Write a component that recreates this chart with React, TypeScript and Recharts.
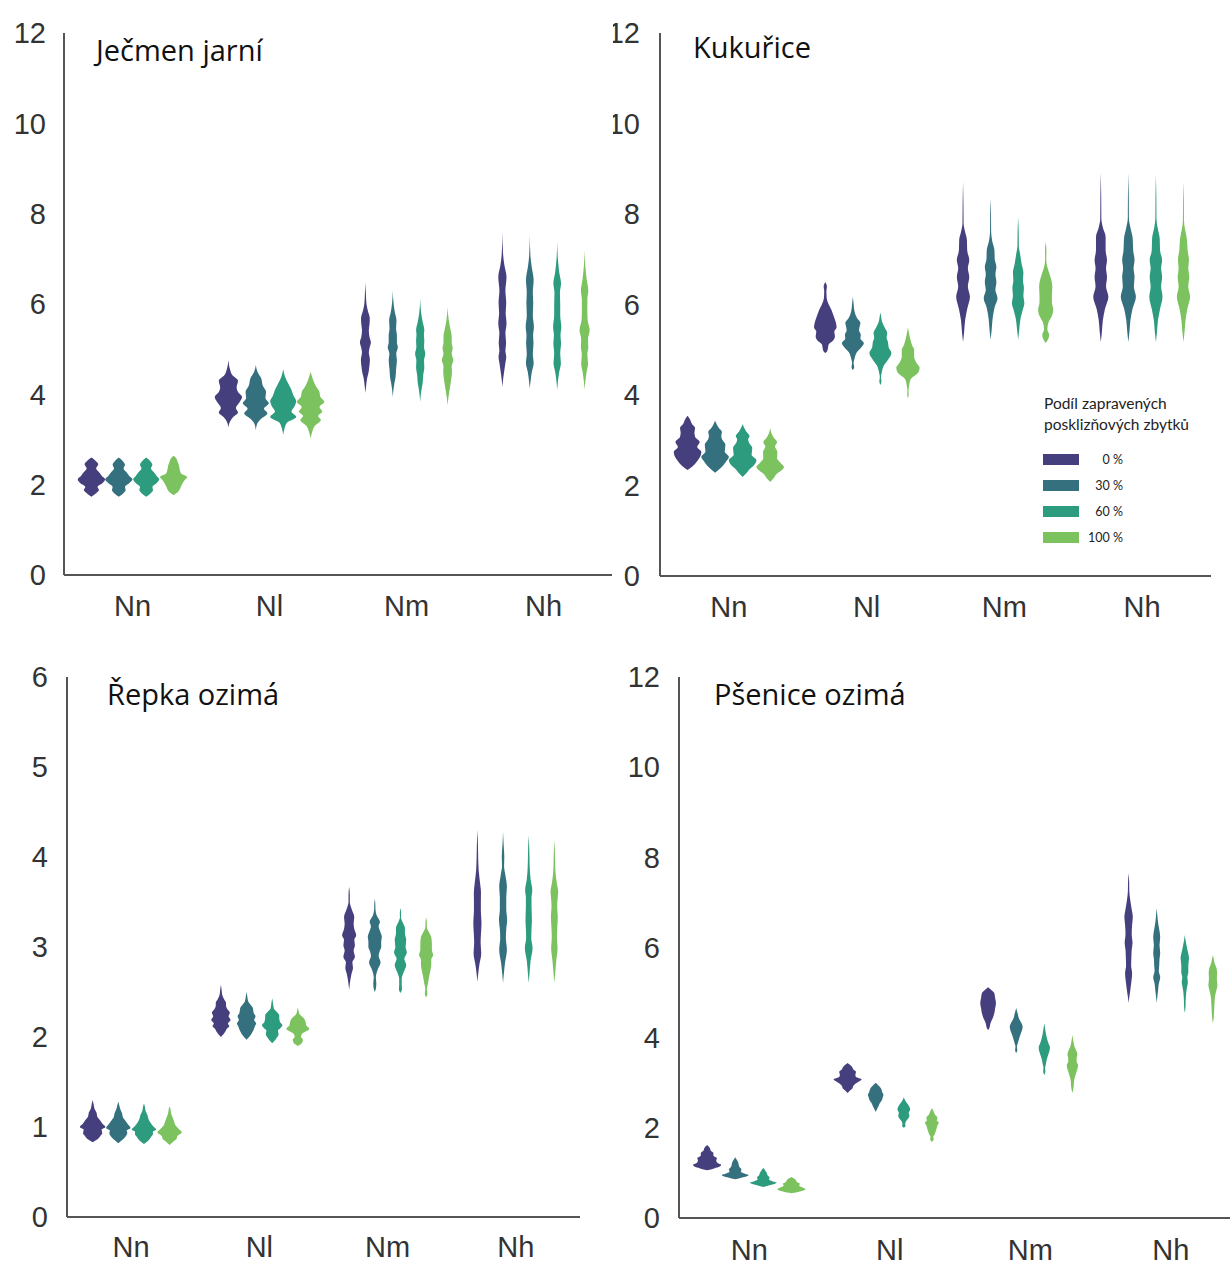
import { ComposedChart, Area, XAxis, YAxis } from 'recharts'

// categories and hue levels
const groups = ['Nn', 'Nl', 'Nm', 'Nh']
const shares = ['0 %', '30 %', '60 %', '100 %']
const colors = ['#463f7e', '#35707f', '#2d9b7d', '#7cc25f']
const ticks12 = [0, 2, 4, 6, 8, 10, 12]
const ticks6 = [0, 1, 2, 3, 4, 5, 6]

// each violin: [value, relative density] pairs from bottom to top, one profile per hue
type Profile = [number, number][]

// Ječmen jarní
const jecmenNn: Profile[] = [
  [[1.73, 0], [1.8, 0.3], [1.88, 0.55], [1.95, 0.45], [2.03, 0.8], [2.12, 1], [2.2, 0.75], [2.28, 0.55], [2.36, 0.35], [2.45, 0.5], [2.53, 0.3], [2.6, 0]],
  [[1.73, 0], [1.8, 0.3], [1.88, 0.5], [1.95, 0.45], [2.03, 0.75], [2.12, 1], [2.2, 0.75], [2.28, 0.55], [2.36, 0.35], [2.44, 0.45], [2.52, 0.3], [2.6, 0]],
  [[1.73, 0], [1.8, 0.3], [1.88, 0.5], [1.95, 0.45], [2.03, 0.75], [2.12, 0.95], [2.2, 0.75], [2.28, 0.55], [2.36, 0.35], [2.44, 0.45], [2.52, 0.3], [2.6, 0]],
  [[1.77, 0], [1.85, 0.35], [1.93, 0.5], [2.0, 0.6], [2.1, 0.8], [2.17, 1], [2.25, 0.55], [2.33, 0.45], [2.42, 0.4], [2.5, 0.3], [2.58, 0.2], [2.64, 0]],
]
const jecmenNl: Profile[] = [
  [[3.27, 0], [3.4, 0.12], [3.5, 0.35], [3.6, 0.7], [3.7, 0.55], [3.82, 0.8], [3.94, 1], [4.05, 0.7], [4.15, 0.6], [4.3, 0.7], [4.42, 0.3], [4.55, 0.12], [4.76, 0]],
  [[3.2, 0], [3.35, 0.1], [3.45, 0.35], [3.58, 0.85], [3.68, 0.6], [3.8, 0.95], [3.92, 0.7], [4.05, 0.75], [4.2, 0.5], [4.35, 0.4], [4.5, 0.12], [4.65, 0]],
  [[3.1, 0], [3.25, 0.1], [3.38, 0.3], [3.5, 0.95], [3.62, 0.6], [3.75, 0.85], [3.85, 0.95], [3.97, 0.75], [4.1, 0.6], [4.25, 0.35], [4.4, 0.12], [4.56, 0]],
  [[3.03, 0], [3.15, 0.1], [3.3, 0.3], [3.43, 0.75], [3.52, 0.55], [3.62, 0.85], [3.72, 0.65], [3.83, 1], [3.95, 0.7], [4.05, 0.65], [4.2, 0.35], [4.35, 0.15], [4.5, 0]],
]
const jecmenNm: Profile[] = [
  [[4.03, 0], [4.2, 0.06], [4.35, 0.12], [4.47, 0.22], [4.6, 0.28], [4.76, 0.33], [4.93, 0.25], [5.05, 0.32], [5.15, 0.4], [5.27, 0.3], [5.42, 0.25], [5.55, 0.3], [5.68, 0.32], [5.85, 0.18], [6.0, 0.08], [6.2, 0.04], [6.48, 0]],
  [[3.94, 0], [4.1, 0.05], [4.25, 0.12], [4.38, 0.2], [4.55, 0.24], [4.76, 0.3], [4.9, 0.25], [5.04, 0.37], [5.15, 0.3], [5.3, 0.3], [5.45, 0.24], [5.64, 0.27], [5.8, 0.16], [6.0, 0.06], [6.3, 0]],
  [[3.83, 0], [4.0, 0.05], [4.15, 0.12], [4.25, 0.18], [4.42, 0.22], [4.6, 0.3], [4.75, 0.28], [4.9, 0.37], [5.05, 0.28], [5.2, 0.3], [5.32, 0.27], [5.42, 0.3], [5.6, 0.18], [5.8, 0.07], [6.13, 0]],
  [[3.76, 0], [3.9, 0.05], [4.05, 0.12], [4.2, 0.2], [4.35, 0.27], [4.5, 0.32], [4.62, 0.3], [4.76, 0.42], [4.9, 0.3], [5.02, 0.37], [5.15, 0.3], [5.27, 0.3], [5.45, 0.2], [5.65, 0.08], [5.93, 0]],
]
const jecmenNh: Profile[] = [
  [[4.16, 0], [4.35, 0.06], [4.55, 0.15], [4.7, 0.22], [4.82, 0.28], [4.97, 0.22], [5.13, 0.27], [5.35, 0.22], [5.57, 0.3], [5.8, 0.24], [6.02, 0.28], [6.3, 0.22], [6.6, 0.3], [6.85, 0.15], [7.1, 0.05], [7.6, 0]],
  [[4.13, 0], [4.3, 0.06], [4.5, 0.15], [4.69, 0.28], [4.9, 0.22], [5.13, 0.27], [5.3, 0.24], [5.49, 0.3], [5.75, 0.22], [6.02, 0.25], [6.25, 0.22], [6.53, 0.28], [6.8, 0.15], [7.05, 0.05], [7.52, 0]],
  [[4.1, 0], [4.3, 0.06], [4.5, 0.15], [4.69, 0.27], [4.9, 0.22], [5.13, 0.28], [5.3, 0.24], [5.49, 0.3], [5.75, 0.22], [6.0, 0.22], [6.25, 0.2], [6.46, 0.28], [6.7, 0.15], [7.0, 0.05], [7.37, 0]],
  [[4.1, 0], [4.3, 0.06], [4.5, 0.15], [4.69, 0.25], [4.88, 0.2], [5.04, 0.27], [5.22, 0.25], [5.42, 0.37], [5.65, 0.22], [5.9, 0.2], [6.1, 0.2], [6.3, 0.27], [6.55, 0.15], [6.85, 0.05], [7.2, 0]],
]

// Kukuřice
const kukuriceNn: Profile[] = [
  [[2.34, 0], [2.42, 0.35], [2.5, 0.6], [2.6, 0.85], [2.74, 1], [2.85, 0.7], [2.96, 0.88], [3.07, 0.55], [3.17, 0.5], [3.27, 0.55], [3.37, 0.3], [3.45, 0.2], [3.54, 0]],
  [[2.28, 0], [2.36, 0.3], [2.45, 0.6], [2.55, 0.85], [2.63, 1], [2.75, 0.7], [2.9, 0.75], [3.02, 0.5], [3.1, 0.45], [3.18, 0.5], [3.28, 0.25], [3.35, 0.12], [3.43, 0]],
  [[2.19, 0], [2.28, 0.3], [2.36, 0.5], [2.46, 0.85], [2.56, 1], [2.68, 0.65], [2.83, 0.7], [2.95, 0.45], [3.02, 0.4], [3.09, 0.5], [3.2, 0.25], [3.28, 0.1], [3.36, 0]],
  [[2.08, 0], [2.16, 0.25], [2.25, 0.45], [2.33, 0.8], [2.41, 1], [2.5, 0.75], [2.6, 0.5], [2.74, 0.52], [2.86, 0.35], [2.96, 0.5], [3.06, 0.25], [3.15, 0.1], [3.27, 0]],
]
const kukuriceNl: Profile[] = [
  [[4.93, 0], [4.98, 0.15], [5.05, 0.2], [5.12, 0.25], [5.2, 0.55], [5.3, 0.7], [5.4, 0.65], [5.5, 0.82], [5.62, 0.75], [5.75, 0.6], [5.88, 0.45], [6.0, 0.25], [6.15, 0.1], [6.3, 0.08], [6.4, 0.12], [6.5, 0]],
  [[4.55, 0], [4.62, 0.1], [4.7, 0.05], [4.8, 0.12], [4.95, 0.3], [5.05, 0.6], [5.15, 0.8], [5.25, 0.55], [5.33, 0.58], [5.43, 0.45], [5.52, 0.5], [5.59, 0.55], [5.7, 0.3], [5.85, 0.12], [6.0, 0.06], [6.17, 0]],
  [[4.22, 0], [4.3, 0.08], [4.4, 0.04], [4.5, 0.1], [4.65, 0.25], [4.78, 0.55], [4.93, 0.8], [5.05, 0.6], [5.17, 0.55], [5.27, 0.45], [5.37, 0.5], [5.5, 0.3], [5.62, 0.12], [5.72, 0.06], [5.83, 0]],
  [[3.93, 0], [4.0, 0.05], [4.1, 0.04], [4.2, 0.08], [4.35, 0.2], [4.5, 0.75], [4.6, 0.85], [4.72, 0.6], [4.85, 0.45], [5.0, 0.45], [5.1, 0.3], [5.2, 0.2], [5.3, 0.12], [5.5, 0]],
]
const kukuriceNm: Profile[] = [
  [[5.17, 0], [5.4, 0.08], [5.65, 0.15], [5.9, 0.3], [6.17, 0.5], [6.4, 0.35], [6.61, 0.45], [6.8, 0.35], [6.98, 0.45], [7.2, 0.3], [7.43, 0.28], [7.6, 0.15], [7.8, 0.04], [8.2, 0.03], [8.71, 0]],
  [[5.22, 0], [5.45, 0.08], [5.7, 0.15], [5.95, 0.3], [6.14, 0.5], [6.32, 0.35], [6.5, 0.42], [6.67, 0.35], [6.83, 0.42], [7.0, 0.3], [7.2, 0.28], [7.4, 0.12], [7.6, 0.04], [8.0, 0.03], [8.35, 0]],
  [[5.22, 0], [5.45, 0.08], [5.7, 0.18], [5.9, 0.35], [6.03, 0.45], [6.2, 0.38], [6.36, 0.42], [6.53, 0.35], [6.7, 0.38], [6.9, 0.25], [7.1, 0.15], [7.3, 0.05], [7.6, 0.04], [7.93, 0]],
  [[5.15, 0], [5.25, 0.2], [5.33, 0.25], [5.45, 0.12], [5.6, 0.2], [5.75, 0.45], [5.88, 0.55], [6.05, 0.45], [6.2, 0.45], [6.39, 0.48], [6.55, 0.4], [6.7, 0.25], [6.85, 0.1], [7.0, 0.04], [7.2, 0.05], [7.38, 0]],
]
const kukuriceNh: Profile[] = [
  [[5.17, 0], [5.4, 0.08], [5.65, 0.15], [5.9, 0.3], [6.17, 0.55], [6.4, 0.38], [6.61, 0.45], [6.8, 0.38], [6.98, 0.45], [7.2, 0.35], [7.49, 0.35], [7.7, 0.15], [7.9, 0.04], [8.4, 0.03], [8.91, 0]],
  [[5.17, 0], [5.4, 0.08], [5.65, 0.15], [5.9, 0.3], [6.17, 0.55], [6.4, 0.4], [6.61, 0.45], [6.8, 0.38], [6.98, 0.45], [7.2, 0.35], [7.45, 0.32], [7.7, 0.15], [7.9, 0.04], [8.4, 0.03], [8.9, 0]],
  [[5.17, 0], [5.4, 0.08], [5.65, 0.15], [5.9, 0.3], [6.17, 0.48], [6.4, 0.38], [6.61, 0.45], [6.8, 0.38], [6.98, 0.45], [7.2, 0.3], [7.45, 0.28], [7.7, 0.12], [7.9, 0.04], [8.4, 0.03], [8.86, 0]],
  [[5.17, 0], [5.4, 0.08], [5.65, 0.15], [5.9, 0.28], [6.17, 0.48], [6.4, 0.35], [6.61, 0.42], [6.8, 0.35], [6.98, 0.4], [7.2, 0.3], [7.45, 0.25], [7.65, 0.12], [7.85, 0.04], [8.3, 0.03], [8.71, 0]],
]

// Řepka ozimá
const repkaNn: Profile[] = [
  [[0.83, 0], [0.86, 0.35], [0.9, 0.6], [0.93, 0.75], [0.97, 0.7], [1.0, 1.0], [1.04, 0.75], [1.08, 0.55], [1.12, 0.35], [1.16, 0.3], [1.2, 0.15], [1.25, 0.08], [1.3, 0]],
  [[0.82, 0], [0.86, 0.35], [0.9, 0.6], [0.93, 0.7], [0.96, 0.65], [0.99, 0.95], [1.03, 0.75], [1.07, 0.55], [1.11, 0.35], [1.15, 0.3], [1.2, 0.15], [1.24, 0.08], [1.28, 0]],
  [[0.81, 0], [0.85, 0.35], [0.89, 0.55], [0.92, 0.7], [0.95, 0.7], [0.97, 0.95], [1.01, 0.7], [1.05, 0.5], [1.09, 0.35], [1.13, 0.28], [1.18, 0.12], [1.22, 0.08], [1.26, 0]],
  [[0.8, 0], [0.84, 0.3], [0.87, 0.55], [0.9, 0.6], [0.94, 0.95], [0.98, 0.7], [1.02, 0.45], [1.06, 0.35], [1.1, 0.25], [1.15, 0.12], [1.19, 0.08], [1.23, 0]],
]
const repkaNl: Profile[] = [
  [[2.0, 0], [2.03, 0.2], [2.06, 0.35], [2.09, 0.45], [2.12, 0.65], [2.15, 0.55], [2.19, 0.75], [2.23, 0.6], [2.27, 0.7], [2.31, 0.5], [2.35, 0.4], [2.38, 0.4], [2.42, 0.25], [2.47, 0.1], [2.52, 0.06], [2.58, 0]],
  [[1.97, 0], [2.0, 0.2], [2.04, 0.4], [2.08, 0.55], [2.12, 0.65], [2.15, 0.75], [2.19, 0.6], [2.23, 0.7], [2.27, 0.55], [2.32, 0.5], [2.36, 0.3], [2.4, 0.12], [2.45, 0.06], [2.5, 0]],
  [[1.93, 0], [1.97, 0.25], [2.0, 0.4], [2.03, 0.5], [2.07, 0.45], [2.1, 0.65], [2.13, 0.8], [2.17, 0.6], [2.21, 0.55], [2.24, 0.55], [2.28, 0.35], [2.32, 0.12], [2.38, 0.06], [2.43, 0]],
  [[1.9, 0], [1.93, 0.3], [1.97, 0.4], [2.0, 0.25], [2.03, 0.3], [2.06, 0.6], [2.09, 0.9], [2.13, 0.65], [2.17, 0.6], [2.21, 0.45], [2.25, 0.15], [2.29, 0.06], [2.33, 0]],
]
const repkaNm: Profile[] = [
  [[2.52, 0], [2.6, 0.06], [2.7, 0.18], [2.77, 0.3], [2.83, 0.25], [2.89, 0.45], [2.96, 0.35], [3.02, 0.45], [3.08, 0.4], [3.13, 0.55], [3.2, 0.4], [3.26, 0.35], [3.33, 0.4], [3.42, 0.2], [3.5, 0.05], [3.58, 0.05], [3.67, 0]],
  [[2.5, 0], [2.55, 0.1], [2.6, 0.12], [2.66, 0.08], [2.74, 0.2], [2.83, 0.45], [2.9, 0.3], [2.96, 0.4], [3.0, 0.5], [3.06, 0.5], [3.11, 0.55], [3.18, 0.4], [3.23, 0.3], [3.28, 0.4], [3.35, 0.15], [3.42, 0.05], [3.48, 0.04], [3.54, 0]],
  [[2.49, 0], [2.53, 0.12], [2.58, 0.1], [2.65, 0.1], [2.72, 0.25], [2.8, 0.45], [2.87, 0.3], [2.94, 0.5], [3.0, 0.4], [3.08, 0.45], [3.15, 0.35], [3.21, 0.35], [3.28, 0.15], [3.33, 0.04], [3.38, 0.05], [3.43, 0]],
  [[2.44, 0], [2.48, 0.1], [2.53, 0.06], [2.6, 0.15], [2.68, 0.25], [2.75, 0.35], [2.8, 0.4], [2.86, 0.4], [2.91, 0.55], [2.97, 0.45], [3.04, 0.45], [3.11, 0.4], [3.17, 0.2], [3.22, 0.06], [3.28, 0.05], [3.33, 0]],
]
const repkaNh: Profile[] = [
  [[2.61, 0], [2.7, 0.06], [2.8, 0.15], [2.93, 0.3], [3.05, 0.25], [3.15, 0.28], [3.27, 0.32], [3.4, 0.27], [3.5, 0.27], [3.6, 0.28], [3.72, 0.2], [3.85, 0.1], [4.0, 0.06], [4.15, 0.04], [4.3, 0]],
  [[2.6, 0], [2.7, 0.06], [2.82, 0.15], [2.97, 0.3], [3.1, 0.22], [3.2, 0.25], [3.3, 0.32], [3.42, 0.25], [3.55, 0.25], [3.67, 0.3], [3.8, 0.18], [3.9, 0.08], [4.0, 0.1], [4.15, 0.04], [4.28, 0]],
  [[2.6, 0], [2.7, 0.06], [2.85, 0.15], [2.99, 0.3], [3.1, 0.2], [3.2, 0.22], [3.3, 0.25], [3.45, 0.22], [3.55, 0.22], [3.63, 0.28], [3.75, 0.15], [3.88, 0.08], [4.0, 0.06], [4.12, 0.04], [4.24, 0]],
  [[2.6, 0], [2.7, 0.06], [2.85, 0.15], [2.99, 0.25], [3.1, 0.2], [3.2, 0.22], [3.33, 0.27], [3.45, 0.22], [3.53, 0.25], [3.61, 0.3], [3.72, 0.18], [3.85, 0.08], [3.95, 0.06], [4.07, 0.04], [4.19, 0]],
]

// Pšenice ozimá
const pseniceNn: Profile[] = [
  [[1.06, 0], [1.1, 0.5], [1.14, 0.9], [1.18, 1.0], [1.22, 0.75], [1.27, 0.65], [1.33, 0.7], [1.38, 0.45], [1.44, 0.45], [1.5, 0.25], [1.55, 0.2], [1.62, 0]],
  [[0.86, 0], [0.9, 0.5], [0.95, 0.95], [0.99, 0.6], [1.03, 0.4], [1.08, 0.45], [1.13, 0.3], [1.18, 0.25], [1.24, 0.2], [1.3, 0.1], [1.35, 0]],
  [[0.69, 0], [0.73, 0.5], [0.78, 0.95], [0.82, 0.6], [0.86, 0.4], [0.9, 0.45], [0.95, 0.3], [1.0, 0.25], [1.05, 0.15], [1.11, 0]],
  [[0.55, 0], [0.59, 0.6], [0.64, 1.0], [0.68, 0.75], [0.72, 0.55], [0.76, 0.6], [0.8, 0.4], [0.85, 0.3], [0.91, 0]],
]
const pseniceNl: Profile[] = [
  [[2.77, 0], [2.82, 0.15], [2.88, 0.35], [2.93, 0.4], [2.98, 0.55], [3.03, 0.8], [3.08, 1.0], [3.13, 0.6], [3.18, 0.55], [3.24, 0.6], [3.3, 0.4], [3.36, 0.3], [3.44, 0]],
  [[2.35, 0], [2.42, 0.1], [2.48, 0.2], [2.55, 0.3], [2.62, 0.45], [2.68, 0.5], [2.73, 0.55], [2.8, 0.45], [2.86, 0.4], [2.92, 0.25], [3.0, 0]],
  [[2.0, 0], [2.04, 0.12], [2.08, 0.1], [2.14, 0.15], [2.2, 0.3], [2.27, 0.4], [2.33, 0.35], [2.4, 0.45], [2.47, 0.4], [2.52, 0.3], [2.58, 0.15], [2.68, 0]],
  [[1.69, 0], [1.74, 0.12], [1.8, 0.1], [1.86, 0.2], [1.93, 0.28], [2.0, 0.35], [2.06, 0.4], [2.11, 0.5], [2.17, 0.35], [2.22, 0.4], [2.3, 0.2], [2.36, 0.12], [2.44, 0]],
]
const pseniceNm: Profile[] = [
  [[4.17, 0], [4.22, 0.1], [4.3, 0.15], [4.38, 0.25], [4.45, 0.35], [4.55, 0.45], [4.65, 0.5], [4.77, 0.56], [4.88, 0.5], [4.98, 0.45], [5.05, 0.25], [5.12, 0]],
  [[3.66, 0], [3.72, 0.08], [3.8, 0.05], [3.88, 0.12], [3.97, 0.2], [4.07, 0.3], [4.17, 0.42], [4.24, 0.46], [4.32, 0.38], [4.42, 0.2], [4.52, 0.12], [4.66, 0]],
  [[3.17, 0], [3.25, 0.08], [3.33, 0.06], [3.42, 0.12], [3.52, 0.18], [3.62, 0.28], [3.72, 0.38], [3.79, 0.4], [3.87, 0.3], [3.97, 0.2], [4.08, 0.12], [4.2, 0.06], [4.32, 0]],
  [[2.77, 0], [2.85, 0.06], [2.95, 0.1], [3.05, 0.12], [3.15, 0.2], [3.25, 0.3], [3.33, 0.38], [3.39, 0.4], [3.47, 0.3], [3.55, 0.3], [3.62, 0.35], [3.7, 0.3], [3.8, 0.15], [3.9, 0.08], [4.06, 0]],
]
const pseniceNh: Profile[] = [
  [[4.77, 0], [4.9, 0.05], [5.05, 0.12], [5.2, 0.18], [5.3, 0.22], [5.43, 0.25], [5.6, 0.18], [5.8, 0.2], [5.95, 0.22], [6.1, 0.28], [6.3, 0.22], [6.5, 0.25], [6.67, 0.3], [6.85, 0.22], [7.05, 0.12], [7.25, 0.05], [7.45, 0.04], [7.65, 0]],
  [[4.77, 0], [4.92, 0.05], [5.05, 0.1], [5.2, 0.15], [5.34, 0.25], [5.48, 0.15], [5.6, 0.18], [5.75, 0.2], [5.88, 0.25], [6.05, 0.2], [6.23, 0.25], [6.4, 0.18], [6.55, 0.1], [6.7, 0.05], [6.87, 0]],
  [[4.55, 0], [4.68, 0.05], [4.8, 0.06], [4.92, 0.08], [5.05, 0.12], [5.15, 0.18], [5.23, 0.22], [5.34, 0.18], [5.45, 0.25], [5.6, 0.25], [5.76, 0.3], [5.9, 0.22], [6.05, 0.12], [6.15, 0.06], [6.28, 0]],
  [[4.32, 0], [4.42, 0.05], [4.55, 0.08], [4.7, 0.1], [4.8, 0.12], [4.92, 0.15], [5.05, 0.25], [5.17, 0.32], [5.3, 0.28], [5.43, 0.3], [5.55, 0.25], [5.65, 0.12], [5.75, 0.06], [5.83, 0]],
]

const HALF = 0.1 // max half-width of one violin in group units
const AXIS = '#555'
const tickFont = { fontSize: 29, fill: '#333', fontFamily: '"Liberation Sans", Arial, sans-serif' }

type PanelProps = {
  title: string
  violins: Profile[][]
  ticks: number[]
  left: number
  top: number
  width: number
  height: number
  axisX: number
  plotTop: number
  plotBottom: number
  plotRight: number
  xMargin: number
  yMargin: number
  titleX: number
  titleY: number
}

function ViolinPanel(p: PanelProps) {
  const yAxisW = p.axisX - p.left
  const mTop = p.plotTop - p.top
  const xAxisH = p.height - (p.plotBottom - p.top)
  const chartW = p.plotRight - p.left + 6
  return (
    <div style={{ position: 'absolute', left: p.left, top: p.top, width: p.width, height: p.height, overflow: 'hidden' }}>
      <ComposedChart layout="vertical" width={chartW} height={p.height} margin={{ top: mTop, right: 6, left: 0, bottom: 0 }}>
        <XAxis type="number" domain={[0, 4]} ticks={[0.5, 1.5, 2.5, 3.5]} interval={0} allowDataOverflow
          tickFormatter={(v: number) => groups[Math.floor(v)]} axisLine={{ stroke: AXIS, strokeWidth: 2 }}
          tickLine={false} tickSize={0} tickMargin={p.xMargin} tick={tickFont} height={xAxisH} />
        {/* vertical layout flips a numeric y axis, so turn it back */}
        <YAxis type="number" dataKey="y" reversed domain={[0, p.ticks[p.ticks.length - 1]]} ticks={p.ticks} interval={0} allowDataOverflow
          axisLine={{ stroke: AXIS, strokeWidth: 2 }} tickLine={false} tickSize={0} tickMargin={p.yMargin}
          tick={tickFont} width={yAxisW} />
        {p.violins.map((group, gi) => group.map((prof, hi) => {
          const c = gi + 0.5 + (hi - 1.5) * 0.2
          const rows = prof.map(([y, d]) => ({ y, v: [c - d * HALF, c + d * HALF] }))
          return (
            <Area key={`${gi}-${hi}`} data={rows} dataKey="v" type="monotone" stroke="none" fill={colors[hi]}
              fillOpacity={1} dot={false} activeDot={false} isAnimationActive={false} />
          )
        }))}
      </ComposedChart>
      <div style={{ position: 'absolute', left: p.titleX - p.left, top: p.titleY - p.top - 20, fontFamily: '"Open Sans", sans-serif', fontSize: 29, lineHeight: '40px', color: '#111', whiteSpace: 'nowrap' }}>
        {p.title}
      </div>
    </div>
  )
}

function ShareLegend() {
  return (
    <div style={{ position: 'absolute', left: 1044, top: 393, fontFamily: 'Lato, sans-serif', color: '#222' }}>
      <div style={{ fontSize: 15.5, lineHeight: '21px' }}>Podíl zapravených<br />posklizňových zbytků</div>
      <div style={{ marginTop: 11 }}>
        {shares.map((s, i) => (
          <div key={s} style={{ display: 'flex', alignItems: 'center', height: 26 }}>
            <span style={{ width: 36, height: 11, background: colors[i], display: 'inline-block', marginLeft: -1 }} />
            <span style={{ width: 44, textAlign: 'right', fontSize: 12.5 }}>{s}</span>
          </div>
        ))}
      </div>
    </div>
  )
}

export default function App() {
  return (
    <div style={{ position: 'absolute', left: 0, top: 0, width: 1230, height: 1264, overflow: 'hidden', background: '#fff' }}>
      <ViolinPanel title="Ječmen jarní" violins={[jecmenNn, jecmenNl, jecmenNm, jecmenNh]} ticks={ticks12}
        left={0} top={0} width={613} height={640} axisX={64} plotTop={33} plotBottom={575} plotRight={612}
        xMargin={20} yMargin={18} titleX={96} titleY={50} />
      <ViolinPanel title="Kukuřice" violins={[kukuriceNn, kukuriceNl, kukuriceNm, kukuriceNh]} ticks={ticks12}
        left={613} top={0} width={617} height={640} axisX={660} plotTop={33} plotBottom={576} plotRight={1211}
        xMargin={20} yMargin={20} titleX={693} titleY={47} />
      <ViolinPanel title="Řepka ozimá" violins={[repkaNn, repkaNl, repkaNm, repkaNh]} ticks={ticks6}
        left={0} top={640} width={615} height={624} axisX={67} plotTop={677} plotBottom={1217} plotRight={580}
        xMargin={19} yMargin={19} titleX={107} titleY={694} />
      <ViolinPanel title="Pšenice ozimá" violins={[pseniceNn, pseniceNl, pseniceNm, pseniceNh]} ticks={ticks12}
        left={615} top={640} width={615} height={624} axisX={679} plotTop={677} plotBottom={1218} plotRight={1241}
        xMargin={21} yMargin={19} titleX={714} titleY={694} />
      <ShareLegend />
    </div>
  )
}
